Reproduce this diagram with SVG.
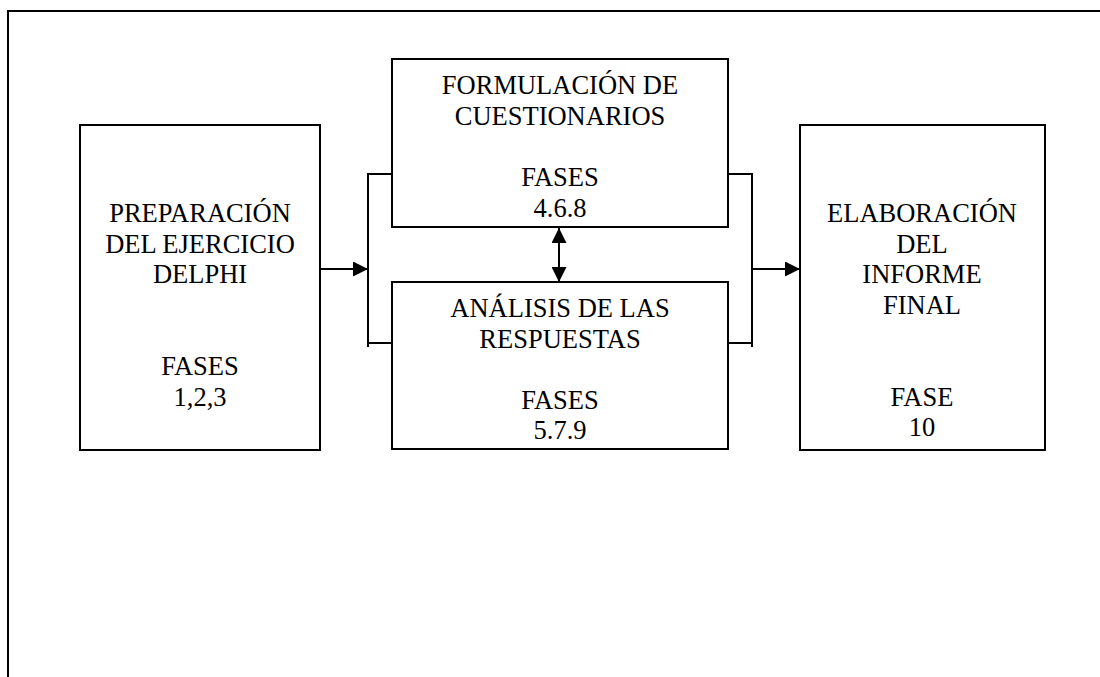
<svg xmlns="http://www.w3.org/2000/svg" width="1100" height="677" viewBox="0 0 1100 677">
<style>
.box{fill:#fff;stroke:#000;stroke-width:2}
.ln{fill:none;stroke:#000;stroke-width:2}
.t{font-family:'Liberation Serif','Times New Roman','DejaVu Serif',serif;font-size:26.5px;fill:#000;text-anchor:middle}
</style>
<defs>
<marker id="ah" viewBox="0 0 10 10" refX="10" refY="5" markerWidth="15" markerHeight="15" markerUnits="userSpaceOnUse" orient="auto-start-reverse">
<path d="M0,0 L10,5 L0,10 Z" fill="#000"/>
</marker>
</defs>
<rect width="1100" height="677" fill="#fff"/>
<g id="frame"><path class="ln" d="M8,677 V11 H1100" stroke-width="2.5"/></g>
<g id="connectors">
<path class="ln" d="M392,174 H368 V347 M368,343 H392"/>
<path class="ln" d="M728,174 H752 V347 M752,343 H728"/>
<line class="ln" x1="320" y1="269" x2="368" y2="269" marker-end="url(#ah)"/>
<line class="ln" x1="752" y1="269" x2="800" y2="269" marker-end="url(#ah)"/>
<line class="ln" x1="559" y1="228" x2="559" y2="282" marker-start="url(#ah)" marker-end="url(#ah)"/>
</g>
<g id="n1" class="t"><rect class="box" x="80" y="125" width="240" height="325"/>
<text x="200" y="222">PREPARACIÓN</text><text x="200" y="252.6">DEL EJERCICIO</text><text x="200" y="283">DELPHI</text>
<text x="200" y="375">FASES</text><text x="200" y="405.5">1,2,3</text></g>
<g id="n2" class="t"><rect class="box" x="392" y="59" width="336" height="168"/>
<text x="560" y="94">FORMULACIÓN DE</text><text x="560" y="124.6">CUESTIONARIOS</text>
<text x="560" y="186">FASES</text><text x="560" y="216.5">4.6.8</text></g>
<g id="n3" class="t"><rect class="box" x="392" y="282" width="336" height="167"/>
<text x="560" y="317">ANÁLISIS DE LAS</text><text x="560" y="347.6">RESPUESTAS</text>
<text x="560" y="408.5">FASES</text><text x="560" y="439">5.7.9</text></g>
<g id="n4" class="t"><rect class="box" x="800" y="125" width="245" height="325"/>
<text x="922" y="222">ELABORACIÓN</text><text x="922" y="252.6">DEL</text><text x="922" y="283">INFORME</text><text x="922" y="313.6">FINAL</text>
<text x="922" y="405.5">FASE</text><text x="922" y="436">10</text></g>
</svg>
